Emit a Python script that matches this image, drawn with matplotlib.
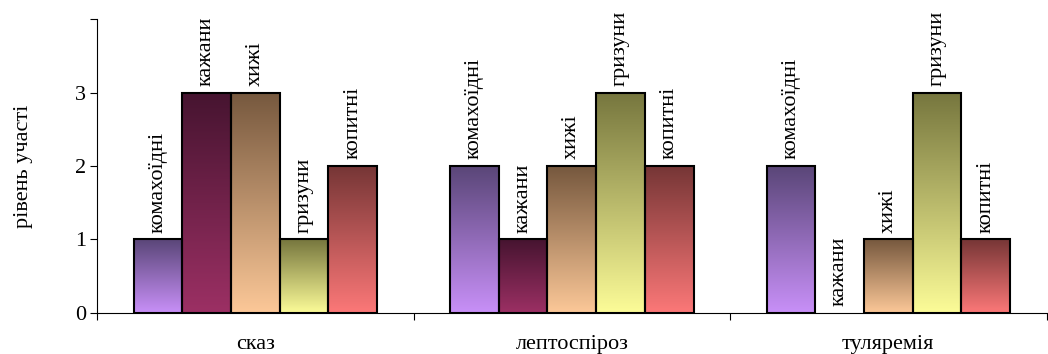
import numpy as np
import matplotlib.pyplot as plt
from matplotlib.colors import LinearSegmentedColormap

plt.rcParams['font.family'] = ['Liberation Serif', 'DejaVu Serif']

diseases = ['сказ', 'лептоспіроз', 'туляремія']
groups = ['комахоїдні', 'кажани', 'хижі', 'гризуни', 'копитні']
values = [
    [1, 3, 3, 1, 2],   # сказ
    [2, 1, 2, 3, 2],   # лептоспіроз
    [2, 0, 1, 3, 1],   # туляремія
]
# top / bottom colours of the gradient of each series
top_colors = ['#5a4678', '#461430', '#76583e', '#76763e', '#763636']
bottom_colors = ['#c890f8', '#9c3064', '#fcc898', '#fcfc98', '#fc7878']

fig = plt.figure(figsize=(10.48, 3.54), dpi=100)
ax = fig.add_axes([0.0926, 0.116, 0.906, 0.83])

n = len(groups)
w = 1 / (n + 1.5)
x = np.arange(len(diseases))
vals = np.array(values)

for i, g in enumerate(groups):
    pos = x - w * n / 2 + w * (i + 0.5)
    bars = ax.bar(pos, vals[:, i], width=w, facecolor='none',
                  edgecolor='black', linewidth=1.5, zorder=3)
    cmap = LinearSegmentedColormap.from_list(g, [bottom_colors[i], top_colors[i]])
    grad = np.linspace(0, 1, 256).reshape(-1, 1)
    for b, v in zip(bars, vals[:, i]):
        if v > 0:
            ax.imshow(grad, cmap=cmap, origin='lower', aspect='auto',
                      extent=(b.get_x(), b.get_x() + b.get_width(), 0, v),
                      zorder=2)
        else:
            b.set_linewidth(0)
        ax.annotate(g, (b.get_x() + b.get_width() / 2, v), xytext=(0, 5),
                    textcoords='offset points', rotation=90, ha='center',
                    va='bottom', fontsize=16)

ax.set_xlim(-0.5, len(diseases) - 0.5)
ax.set_ylim(0, 4)
ax.set_yticks([0, 1, 2, 3, 4])
ax.set_yticklabels(['0', '1', '2', '3', ''])
ax.set_xticks(np.arange(len(diseases) + 1) - 0.5)
ax.set_xticklabels([])
ax.set_xticks(x, minor=True)
ax.set_xticklabels(diseases, minor=True)
ax.tick_params(axis='x', which='minor', length=0, pad=16, labelsize=16)
ax.tick_params(axis='x', which='major', length=5, direction='out')
ax.tick_params(axis='y', length=5, labelsize=16, pad=3)
for s in ['top', 'right']:
    ax.spines[s].set_visible(False)
ax.set_ylabel('рівень участі', fontsize=16, labelpad=30)

fig.savefig('out.png', dpi=100)
